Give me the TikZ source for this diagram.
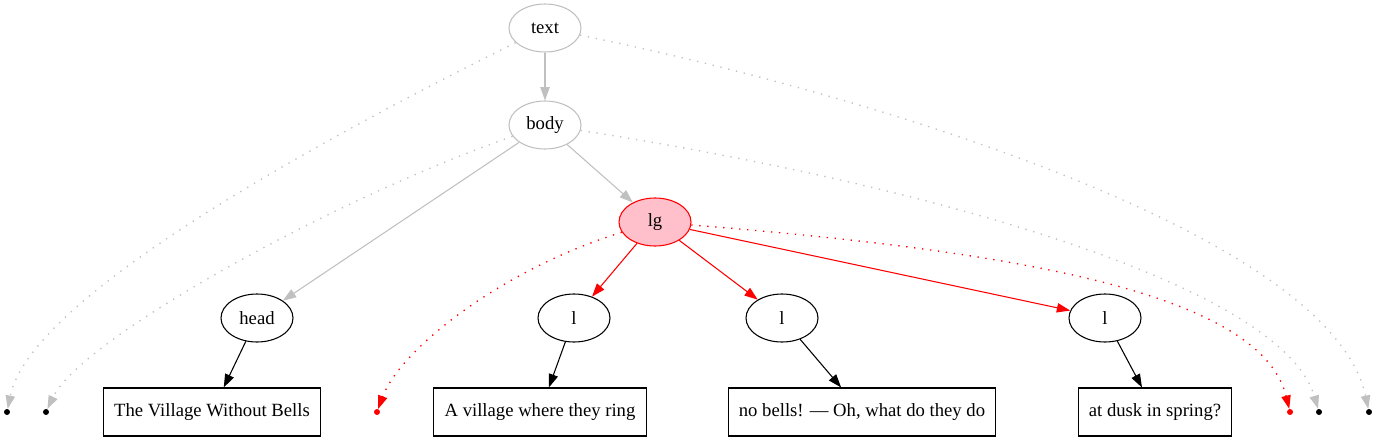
\documentclass[tikz,border=0pt]{standalone}
\usepackage{fontspec}
\setmainfont{Liberation Serif}
\usetikzlibrary{arrows.meta, shapes.geometric}
\definecolor{cinza}{HTML}{C0C0C0}
\definecolor{rosa}{HTML}{FFC0CB}
\begin{document}
\begin{tikzpicture}[
                x=0.75pt, y=-0.75pt,
                no/.style={shape=ellipse, draw=black, line width=0.8pt, minimum width=54pt, minimum height=36pt, inner sep=0pt, font=\fontsize{14}{17}\selectfont},
                folha/.style={shape=rectangle, draw=black, line width=0.8pt, minimum height=36pt, inner xsep=8pt, font=\fontsize{14}{17}\selectfont},
                ponto/.style={shape=circle, fill=black, inner sep=0pt, minimum size=4.5pt},
                aresta/.style={line width=0.8pt, -{Triangle[length=10pt, width=7pt]}},
                pontilhado/.style={aresta, line width=1pt, dash pattern=on 1pt off 5pt},
            ]
            \useasboundingbox (0, 0) rectangle (1376, 443);

            \node[no, draw=cinza] (texto) at (545, 28) {text};
            \node[no, draw=cinza] (corpo) at (545, 125) {body};
            \node[no, draw=red, fill=rosa] (lg) at (655, 222) {lg};
            \node[no] (head) at (257, 318) {head};
            \node[no] (l1) at (574, 318) {l};
            \node[no] (l2) at (782, 318) {l};
            \node[no] (l3) at (1105, 318) {l};

            \node[folha] (f1) at (212, 412) {The Village Without Bells};
            \node[folha] (f2) at (540, 412) {A village where they ring};
            \node[folha] (f3) at (862, 412) {no bells! — Oh, what do they do};
            \node[folha] (f4) at (1155, 412) {at dusk in spring?};

            \node[ponto] (p1) at (7, 412) {};
            \node[ponto] (p2) at (46, 412) {};
            \node[ponto, fill=red] (p3) at (377, 412) {};
            \node[ponto, fill=red] (p4) at (1290, 412) {};
            \node[ponto] (p5) at (1319, 412) {};
            \node[ponto] (p6) at (1369, 412) {};

            \draw[aresta, cinza] (texto) -- (corpo);
            \draw[aresta, cinza] (corpo) -- (head);
            \draw[aresta, cinza] (corpo) -- (lg);
            \draw[aresta, red] (lg) -- (l1);
            \draw[aresta, red] (lg) -- (l2);
            \draw[aresta, red] (lg) -- (l3);
            \draw[aresta] (head) -- (f1);
            \draw[aresta] (l1) -- (f2);
            \draw[aresta] (l2) -- (f3);
            \draw[aresta] (l3) -- (f4);

            \draw[pontilhado, cinza] (texto) .. controls (300, 150) and (30, 300) .. (p1);
            \draw[pontilhado, cinza] (corpo) .. controls (330, 200) and (80, 340) .. (p2);
            \draw[pontilhado, red] (lg) .. controls (500, 270) and (400, 350) .. (p3);
            \draw[pontilhado, red] (lg) .. controls (1000, 250) and (1260, 290) .. (p4);
            \draw[pontilhado, cinza] (corpo) .. controls (900, 180) and (1280, 280) .. (p5);
            \draw[pontilhado, cinza] (texto) .. controls (850, 90) and (1330, 230) .. (p6);
        \end{tikzpicture}
\end{document}
